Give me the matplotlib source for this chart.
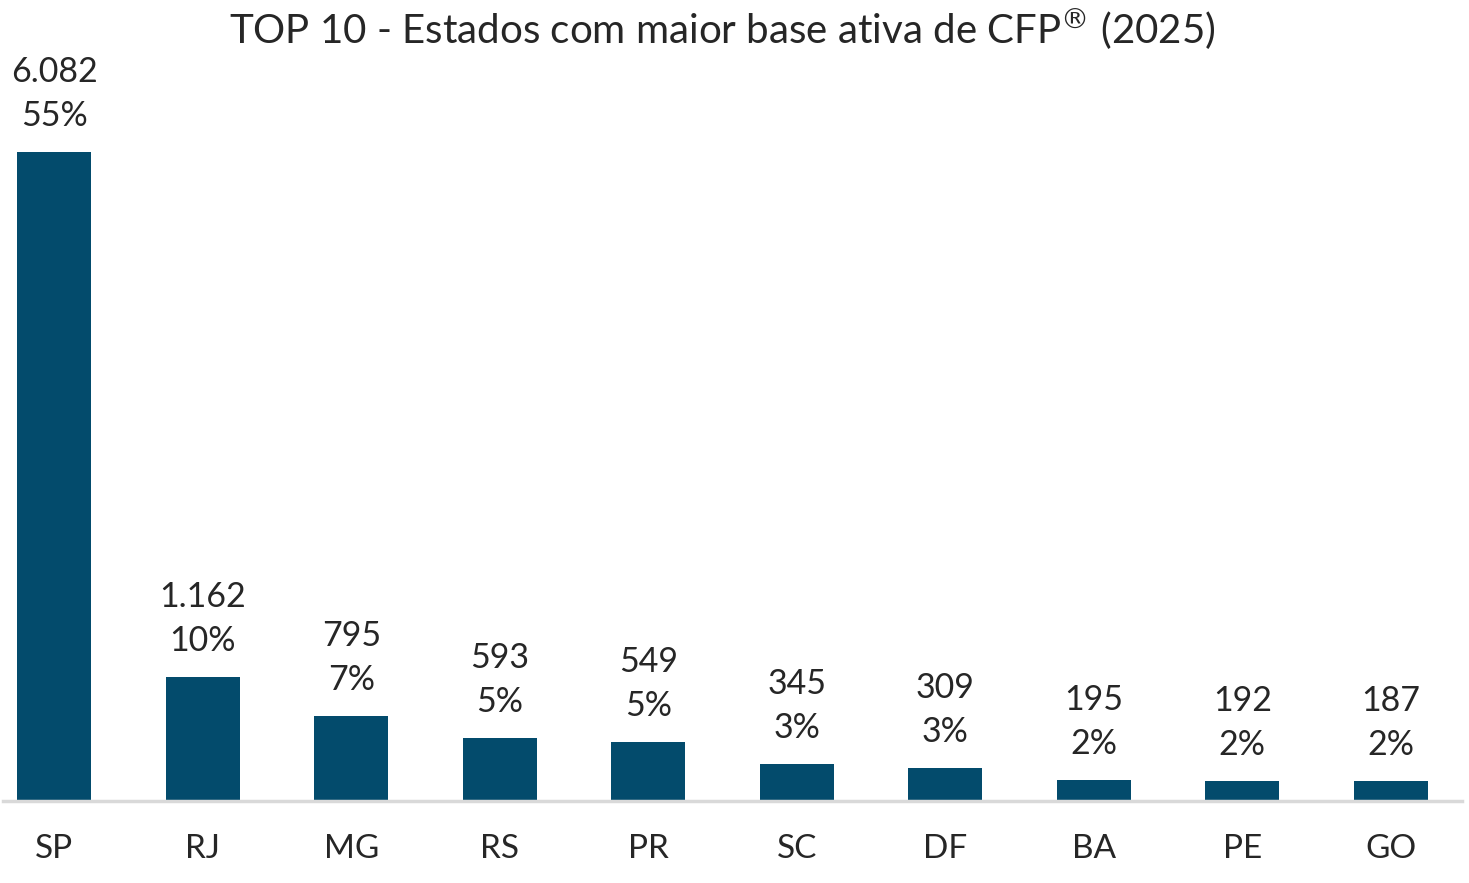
import matplotlib
matplotlib.use("Agg")
import matplotlib.pyplot as plt

# data
estados = ["SP", "RJ", "MG", "RS", "PR", "SC", "DF", "BA", "PE", "GO"]
base_ativa = [6082, 1162, 795, 593, 549, 345, 309, 195, 192, 187]
percentuais = ["55%", "10%", "7%", "5%", "5%", "3%", "3%", "2%", "2%", "2%"]
titulo = "TOP 10 - Estados com maior base ativa de CFP$^{\u00ae}$ (2025)"

plt.rcParams["font.family"] = ["Lato", "DejaVu Sans"]
cor_barra = "#034b6c"
cor_texto = "#262626"

W, H = 1469, 883
fig = plt.figure(figsize=(W / 100, H / 100), dpi=100)
ax = fig.add_axes([3 / W, 82 / H, (1462 - 3) / W, (801 - 152) / H])

x = list(range(len(estados)))
ax.bar(x, base_ativa, width=0.5, color=cor_barra, zorder=2)

ax.set_xlim(-0.345, 9.48)
ax.set_ylim(0, max(base_ativa))

for xi, v, p in zip(x, base_ativa, percentuais):
    rotulo = f"{v:,}".replace(",", ".")
    ax.annotate(rotulo, (xi, v), xytext=(0, 80), textcoords="offset pixels",
                ha="center", va="center", fontsize=24.5, color=cor_texto,
                annotation_clip=False)
    ax.annotate(p, (xi, v), xytext=(0, 36), textcoords="offset pixels",
                ha="center", va="center", fontsize=24.5, color=cor_texto,
                annotation_clip=False)

for s in ["top", "right", "left"]:
    ax.spines[s].set_visible(False)
ax.spines["bottom"].set_color("#d9d9d9")
ax.spines["bottom"].set_linewidth(2.5)
ax.set_yticks([])
ax.set_xticks(x)
ax.set_xticklabels(estados, fontsize=24, color=cor_texto)
ax.tick_params(axis="x", length=0, pad=24)

fig.text(722 / W, 1 - 29 / H, titulo, ha="center", va="center",
         fontsize=29, color=cor_texto)

fig.savefig("out.png", dpi=100, facecolor="white")
